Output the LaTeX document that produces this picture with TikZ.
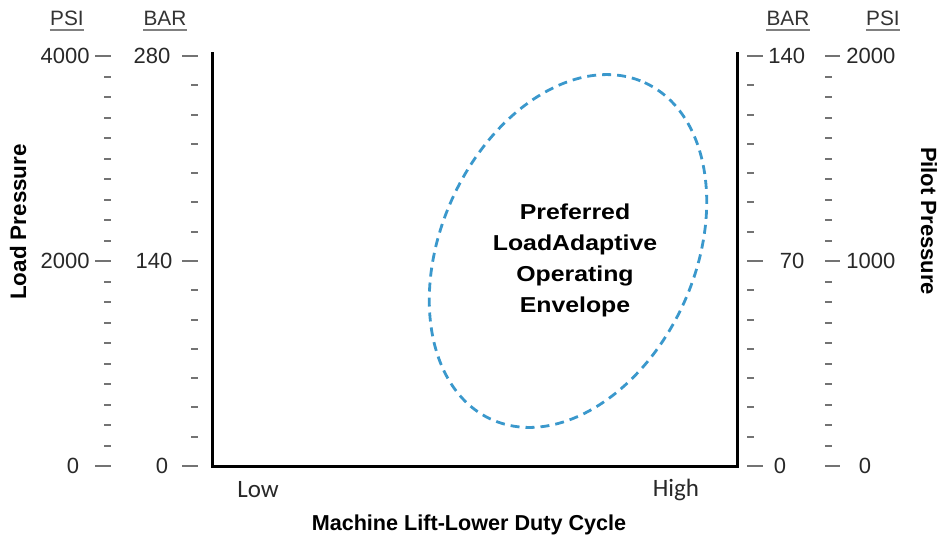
\documentclass[tikz,border=0pt]{standalone}
\usepackage{fontspec}
\setmainfont{Liberation Sans}
\newfontfamily\widesans[FakeStretch=1.15]{Liberation Sans}
\newfontfamily\lowhigh{Carlito}
\usetikzlibrary{positioning}
\definecolor{envblue}{RGB}{58,152,204}
\definecolor{inkgray}{RGB}{40,40,40}

\begin{document}
\begin{tikzpicture}[x=0.5pt,y=-0.5pt,
  num/.style={font=\fontsize{11}{13}\selectfont,text=inkgray,inner sep=0pt},
  hdr/.style={font=\fontsize{10.4}{12}\selectfont,text=black!80,inner sep=0pt},
  uline/.style={draw=black!50,line width=1.2pt},
  ttl/.style={font=\bfseries\fontsize{10.8}{15.5}\selectfont,text=black,inner sep=0pt},
  envt/.style={font=\widesans\bfseries\fontsize{10.8}{15.5}\selectfont,text=black,inner sep=0pt},
  lh/.style={font=\lowhigh\fontsize{12.5}{14}\selectfont,text=inkgray,inner sep=0pt},
  tick/.style={draw=black!55,line width=1pt},
  frame/.style={draw=black,line width=1.5pt},
  env/.style={draw=envblue,line width=1.4pt,dash pattern=on 4.5pt off 3pt}]
  \useasboundingbox (0,0) rectangle (938,543);
  % axis headers
  \node[hdr] (psiL) at (67,18)  {PSI};
  \node[hdr] (barL) at (165,18) {BAR};
  \node[hdr] (barR) at (788,18) {BAR};
  \node[hdr] (psiR) at (883,18) {PSI};
  \foreach \h in {psiL,barL,barR,psiR}
    \draw[uline] ([yshift=-2.2pt]\h.south west) -- ([yshift=-2.2pt]\h.south east);
  % scale ticks
  \foreach \k in {0,...,20} \draw[tick] (104,{56+20.5*\k}) -- (111,{56+20.5*\k});
  \foreach \k in {0,...,14} \draw[tick] (191,{56+410/14*\k}) -- (198,{56+410/14*\k});
  \foreach \k in {0,...,14} \draw[tick] (747,{56+410/14*\k}) -- (754,{56+410/14*\k});
  \foreach \k in {0,...,20} \draw[tick] (825,{56+20.5*\k}) -- (832,{56+20.5*\k});
  \foreach \yy in {56,261,466} {
    \draw[tick] (95,\yy) -- (111,\yy);
    \draw[tick] (182,\yy) -- (198,\yy);
    \draw[tick] (747,\yy) -- (763,\yy);
    \draw[tick] (825,\yy) -- (840,\yy);
  }
  % scale values
  \node[num,anchor=east] (psiL4000) at (90,56)  {4000};
  \node[num,anchor=east] (psiL2000) at (90,261) {2000};
  \node[num] (psiL0)    at (73,466)  {0};
  \node[num] (barL280)  at (152,56)  {280};
  \node[num] (barL140)  at (154,261) {140};
  \node[num] (barL0)    at (162,466) {0};
  \node[num,anchor=west] (barR140) at (768,56) {140};
  \node[num] (barR70)   at (792,261) {70};
  \node[num] (barR0)    at (780,466) {0};
  \node[num,anchor=west] (psiR2000) at (846,56)  {2000};
  \node[num,anchor=west] (psiR1000) at (846,261) {1000};
  \node[num] (psiR0)    at (865,466) {0};
  % chart frame
  \draw[frame] (212,52) -- (212,466) -- (737,466) -- (737,52);
  % operating envelope
  \draw[env,rotate around={65.5:(568,251)}] (568,251) ellipse [x radius=185,y radius=127];
  \node[envt,align=center] (envtxt) at (575,260) {Preferred\\LoadAdaptive\\Operating\\Envelope};
  % axis titles
  \node[lh] (low)  at (258,490) {Low};
  \node[lh] (high) at (676,490) {High};
  \node[ttl] (xtitle) at (469,525) {Machine Lift-Lower Duty Cycle};
  \node[ttl,font=\bfseries\fontsize{11.2}{13}\selectfont,rotate=90] (ytitleL) at (18,222) {Load Pressure};
  \node[ttl,font=\bfseries\fontsize{11}{13}\selectfont,rotate=-90] (ytitleR) at (929,221) {Pilot Pressure};
\end{tikzpicture}
\end{document}
